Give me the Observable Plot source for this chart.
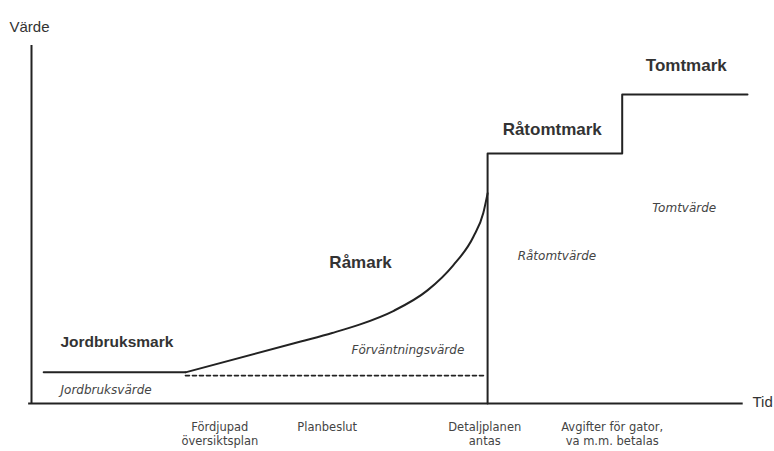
<!DOCTYPE html>
<html>
<head>
<meta charset="utf-8">
<script src="https://cdn.jsdelivr.net/npm/d3@7"></script>
<script src="https://cdn.jsdelivr.net/npm/@observablehq/plot@0.6"></script>
<style>
  html, body { margin: 0; padding: 0; background: #fff; }
  #chart { width: 774px; height: 451px; }
</style>
</head>
<body>
<div id="chart"></div>
<script>
// Time axis stages (tick positions on abstract 0–100 time scale)
const stageX = [26.3, 41.3, 63.3, 81.1];
const stageLabels = ["Fördjupad\növersiktsplan", "Planbeslut", "Detaljplanen\nantas", "Avgifter för gator,\nva m.m. betalas"];

// Agricultural value level (Jordbruksvärde)
const levelT = [1.7, 21.5];
const levelV = [8.7, 8.7];

// Rising raw-land value curve (Råmark)
const riseT = [21.5, 37.6, 42.0, 45.9, 50.6, 55.3, 58.9, 61.7, 63.1, 63.7];
const riseV = [8.7, 17.3, 19.7, 22.1, 25.9, 31.6, 38.6, 46.5, 53.2, 58.7];

// Dashed baseline under the expectation value
const expectT = [21.5, 63.4];
const expectV = [7.8, 7.8];

// Step values: Råtomtmark and Tomtmark
const stepT = [63.7, 63.7, 82.5, 82.5, 100];
const stepV = [0, 69.8, 69.8, 86.3, 86.3];

// Phase labels (bold)
const phaseNames = ["Råmark", "Råtomtmark", "Tomtmark"];
const phaseT = [41.6, 65.8, 85.8];
const phaseV = [39.4, 76.5, 94.4];
const firstPhase = ["Jordbruksmark"];
const firstPhaseT = [4.05];
const firstPhaseV = [17.3];

// Value labels (italic)
const valueNames = ["Jordbruksvärde", "Förväntningsvärde", "Råtomtvärde", "Tomtvärde"];
const valueT = [4.05, 44.7, 67.9, 86.7];
const valueV = [3.6, 14.8, 41.1, 54.5];

const toRows = (xs, ys) => xs.map((x, i) => ({t: x, v: ys[i]}));
const stageMap = new Map(stageX.map((x, i) => [x, stageLabels[i]]));

const ink = "#222";
const boldFont = "'Liberation Sans', Arial, sans-serif";

const chart = Plot.plot({
  width: 774,
  height: 451,
  marginLeft: 31,
  marginRight: 27,
  marginTop: 45,
  marginBottom: 48,
  style: {fontFamily: "'DejaVu Sans', sans-serif", background: "#fff"},
  x: {domain: [0, 100], label: null},
  y: {domain: [0, 100], label: null, axis: null},
  marks: [
    // axes lines
    Plot.ruleX([0], {y1: 0, y2: 100, stroke: ink, strokeWidth: 2}),
    Plot.ruleY([0], {x1: -0.4, x2: 99.4, stroke: ink, strokeWidth: 2}),
    Plot.axisX({
      ticks: stageX,
      tickFormat: d => stageMap.get(d),
      tickSize: 0,
      tickPadding: 17,
      fontSize: 11.5,
      lineHeight: 1.25,
      fill: "#444"
    }),
    // value lines
    Plot.line(toRows(levelT, levelV), {x: "t", y: "v", stroke: ink, strokeWidth: 2}),
    Plot.line(toRows(riseT, riseV), {x: "t", y: "v", stroke: ink, strokeWidth: 2, curve: "monotone-x"}),
    Plot.line(toRows(expectT, expectV), {x: "t", y: "v", stroke: ink, strokeWidth: 1.6, strokeDasharray: "4,3"}),
    Plot.line(toRows(stepT, stepV), {x: "t", y: "v", stroke: ink, strokeWidth: 2}),
    // labels
    Plot.text(phaseNames, {x: (d, i) => phaseT[i], y: (d, i) => phaseV[i], text: d => d,
      textAnchor: "start", fontSize: 17, fontWeight: "bold", fontFamily: boldFont, fill: "#333"}),
    Plot.text(firstPhase, {x: (d, i) => firstPhaseT[i], y: (d, i) => firstPhaseV[i], text: d => d,
      textAnchor: "start", fontSize: 15.5, fontWeight: "bold", fontFamily: boldFont, fill: "#333"}),
    Plot.text(valueNames, {x: (d, i) => valueT[i], y: (d, i) => valueV[i], text: d => d,
      textAnchor: "start", fontSize: 12, fontStyle: "italic", fill: "#444"}),
    // axis titles
    Plot.text(["Värde"], {frameAnchor: "top-left", dx: -22, dy: -24, textAnchor: "start",
      fontSize: 15, fontFamily: boldFont, fill: "#333"}),
    Plot.text(["Tid"], {frameAnchor: "bottom-right", dx: 5, dy: 3, textAnchor: "start",
      fontSize: 15, fontFamily: boldFont, fill: "#333"})
  ]
});
document.getElementById("chart").appendChild(chart);
</script>
</body>
</html>
